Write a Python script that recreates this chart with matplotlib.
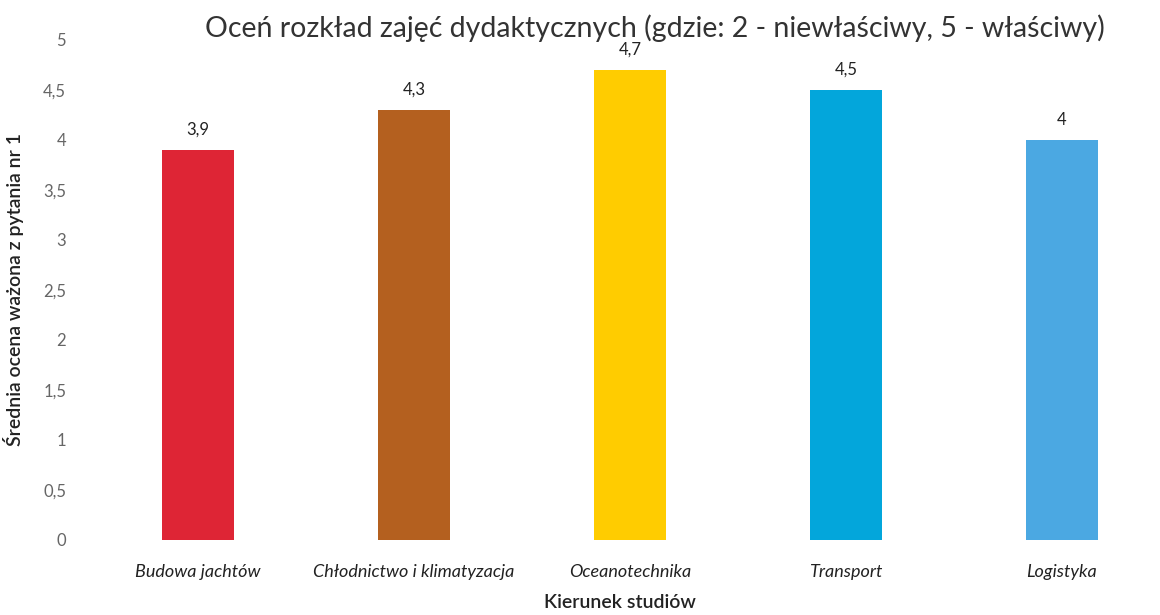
import matplotlib
matplotlib.use("Agg")
import matplotlib.pyplot as plt
import numpy as np

kierunki = ["Budowa jachtów", "Chłodnictwo i klimatyzacja", "Oceanotechnika", "Transport", "Logistyka"]
oceny = [3.9, 4.3, 4.7, 4.5, 4.0]
etykiety = ["3,9", "4,3", "4,7", "4,5", "4"]
kolory = ["#DE2535", "#B4601F", "#FFCC00", "#03A6DB", "#4BA8E2"]
yticks = np.arange(0, 5.01, 0.5)

plt.rcParams['font.family'] = ['Lato', 'DejaVu Sans']

fig = plt.figure(figsize=(11.6, 6.15), dpi=100)
ax = fig.add_axes([80/1160, 75/615, 1080/1160, 500/615])

x = np.arange(len(kierunki))
ax.bar(x, oceny, width=0.33, color=kolory)
for xi, v, t in zip(x, oceny, etykiety):
    ax.text(xi, v + 0.12, t, ha='center', va='bottom', fontsize=12, color='#222222')

ax.set_xlim(-0.546, 4.454)
ax.set_ylim(0, 5)
ax.set_yticks(yticks)
ax.set_yticklabels([("%g" % t).replace(".", ",") for t in yticks], fontsize=12,
                   color='#666666')
ax.set_xticks(x)
ax.set_xticklabels(kierunki, fontsize=13, fontstyle='italic', color='#222222')
ax.tick_params(axis='both', length=0)
ax.tick_params(axis='y', pad=10)
ax.tick_params(axis='x', pad=17)
for s in ax.spines.values():
    s.set_visible(False)

ax.set_ylabel("Średnia ocena ważona z pytania nr 1", fontsize=14, fontweight='semibold', color='#222222', labelpad=14)
ax.set_xlabel("Kierunek studiów", fontsize=14, fontweight='semibold', color='#222222', labelpad=10)
fig.text(655/1160, 1 - 28/615, "Oceń rozkład zajęć dydaktycznych (gdzie: 2 - niewłaściwy, 5 - właściwy)",
         ha='center', va='center', fontsize=20.5, color='#333333')

fig.savefig("out.png", dpi=100)
